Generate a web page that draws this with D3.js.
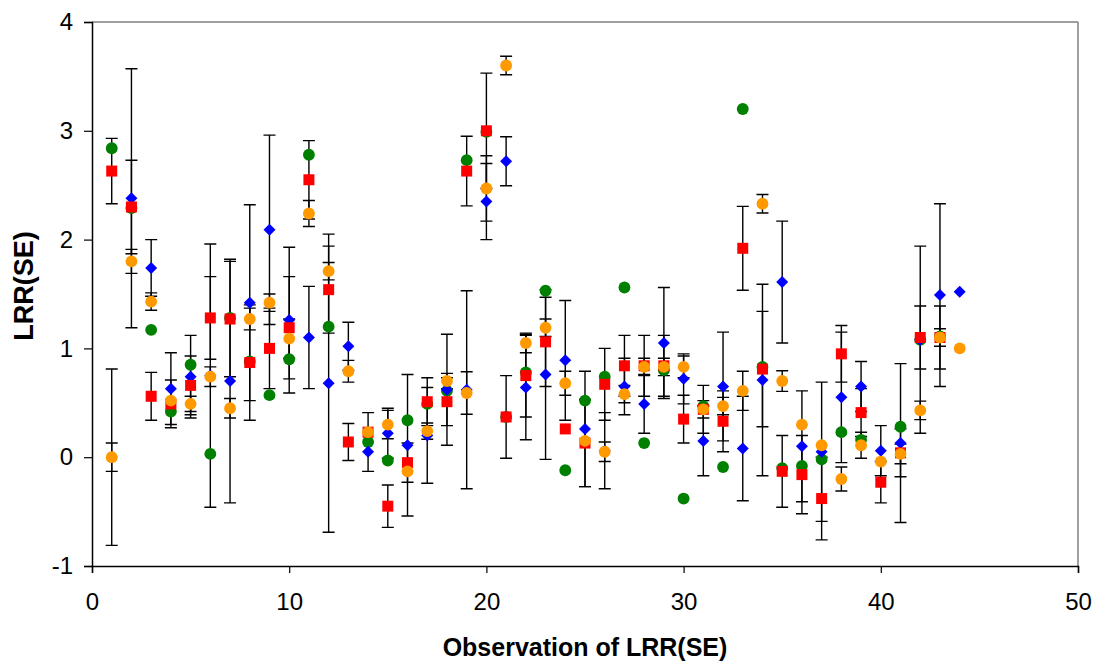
<!DOCTYPE html>
<html>
<head>
<meta charset='utf-8' />
<title>LRR(SE)</title>
<script src="https://cdn.jsdelivr.net/npm/d3@7"></script>
<style>
  html, body { margin: 0; padding: 0; background: #fff; }
  body { font-family: Arial, "Liberation Sans", sans-serif; }
  .tick text { font-size: 24px; fill: #000; font-family: Arial, "Liberation Sans", sans-serif; }
  .axis-title { font-weight: bold; fill: #000; }
  .err { stroke: #000; stroke-width: 1.4; fill: none; }
</style>
</head>
<body>
<svg id="chart" width="1095" height="661"></svg>
<script>
// observation index (x)
const obs = [1,2,3,4,5,6,7,8,9,10,11,12,13,14,15,16,17,18,19,20,21,22,
             23,24,25,26,27,28,29,30,31,32,33,34,35,36,37,38,39,40,41,42,43,44]

// series values and symmetric errors (null = no point, 0 = no bar)
const greenVals = [2.84,2.29,1.17,0.42,0.85,0.03,1.28,0.88,0.57,0.90,2.78,1.20,null,0.14,-0.03,0.34,0.49,0.61,2.73,2.99,0.37,0.78,
                   1.53,-0.12,0.52,0.74,1.56,0.13,0.80,-0.38,0.47,-0.09,3.20,0.83,-0.10,-0.08,-0.02,0.23,0.16,null,0.28,1.08,1.11,null]
const greenErr  = [0,0,0,0,0,0,0,0,0,0,0,0,0,0.27,0,0,0,0,0,0,0,0,
                   0,0,0,0,0,0,0,0,0,0,0,0,0,0,0,0,0,0,0,0,0,0]

const blueVals = [0.00,2.38,1.74,0.63,0.74,0.75,0.70,1.42,2.09,1.26,1.10,0.68,1.02,0.05,0.22,0.11,0.20,0.62,0.62,2.35,2.72,0.64,
                  0.76,0.89,0.26,0.06,0.65,0.49,1.05,0.72,0.15,0.65,0.08,0.71,1.61,0.10,0.05,0.55,0.65,0.06,0.13,1.08,1.49,1.52]
const blueErr  = [0.81,1.19,0.26,0.33,0.38,1.21,1.12,0.90,0.87,0.67,0.47,1.37,0.22,0,0.23,0.65,0.44,0.51,0.91,0.35,0.225,0.48,
                  0.78,0.55,0.53,0.35,0.26,0.27,0.51,0.23,0.32,0.50,0.48,0.88,0.56,0.51,0.64,0.60,0.23,0.23,0.73,0.86,0.84,0]

const redVals = [2.63,2.30,0.56,0.49,0.66,1.28,1.27,0.87,1.00,1.19,2.55,1.54,0.14,0.23,-0.45,-0.05,0.51,0.51,2.63,3.00,0.37,0.75,
                 1.06,0.26,0.13,0.67,0.84,0.84,0.84,0.35,0.44,0.33,1.92,0.81,-0.13,-0.16,-0.38,0.95,0.41,-0.23,0.04,1.10,1.10,null]
const redErr  = [0.30,0.43,0.22,0.22,0.27,0.38,0.53,0.53,0.37,0.47,0.36,0.40,0.17,0,0.195,0.18,0.22,0.22,0.32,0.53,0.38,0.38,
                 0.41,0,0.40,0.33,0.28,0.28,0.28,0.22,0.22,0.28,0.385,0.53,0.33,0.36,0.38,0.26,0.22,0.19,0.22,0.29,0.29,0]

const orangeVals = [0.00,1.80,1.43,0.52,0.49,0.74,0.45,1.27,1.42,1.09,2.24,1.71,0.79,0.23,0.30,-0.13,0.24,0.70,0.59,2.47,3.60,1.05,
                    1.19,0.68,0.15,0.05,0.58,0.83,0.83,0.83,0.44,0.47,0.61,2.33,0.70,0.30,0.11,-0.20,0.11,-0.04,0.03,0.43,1.10,1.00]
const orangeErr  = [0.13,0.11,0.08,0,0.07,0.09,0.09,0.10,0.08,0.18,0.12,0.08,0.10,0,0.13,0,0.075,0.07,0.195,0.30,0.085,0.09,
                    0.08,0.11,0,0.09,0.08,0.08,0.08,0.10,0.08,0.08,0.18,0.085,0.095,0,0,0.11,0.12,0,0.09,0.085,0.08,0]

const xTicks = [0, 10, 20, 30, 40, 50]
const yTicks = [-1, 0, 1, 2, 3, 4]

const series = [
  { name: 'green',  vals: greenVals,  err: greenErr,  color: '#008000', shape: 'circle' },
  { name: 'blue',   vals: blueVals,   err: blueErr,   color: '#0000ff', shape: 'diamond' },
  { name: 'red',    vals: redVals,    err: redErr,    color: '#ff0000', shape: 'square' },
  { name: 'orange', vals: orangeVals, err: orangeErr, color: '#ff9900', shape: 'circle' }
]

const margin = { top: 22, right: 17, bottom: 95, left: 92 }
const width = 1095 - margin.left - margin.right
const height = 661 - margin.top - margin.bottom

const svg = d3.select('#chart')
const g = svg.append('g')
  .attr('transform', 'translate(' + margin.left + ',' + margin.top + ')')

const x = d3.scaleLinear().domain([0, 50]).range([0, width])
const y = d3.scaleLinear().domain([-1, 4]).range([height, 0])

// frame: top and right in grey
g.append('line').attr('x1', 0).attr('x2', width).attr('y1', 0).attr('y2', 0)
  .attr('stroke', '#808080').attr('stroke-width', 1.5)
g.append('line').attr('x1', width).attr('x2', width).attr('y1', 0).attr('y2', height)
  .attr('stroke', '#808080').attr('stroke-width', 1.5)

const fmt = d => String(d)   // plain hyphen for -1
const xAxis = g.append('g')
  .attr('transform', 'translate(0,' + height + ')')
  .call(d3.axisBottom(x).tickValues(xTicks).tickFormat(fmt).tickSize(7).tickPadding(20))
const yAxis = g.append('g')
  .call(d3.axisLeft(y).tickValues(yTicks).tickFormat(fmt).tickSize(8).tickPadding(11))

;[xAxis, yAxis].forEach(a => {
  a.select('.domain').attr('stroke', '#000').attr('stroke-width', 1.5)
  a.selectAll('.tick line').attr('stroke', '#000').attr('stroke-width', 1.2)
})

// axis titles
g.append('text').attr('class', 'axis-title')
  .attr('x', width / 2).attr('y', height + 90)
  .style('font-size', '25px')
  .attr('text-anchor', 'middle')
  .text('Observation of LRR(SE)')
g.append('text').attr('class', 'axis-title')
  .attr('transform', 'translate(' + (-59) + ',' + (height / 2 - 8) + ') rotate(-90)')
  .style('font-size', '27px')
  .attr('text-anchor', 'middle')
  .text('LRR(SE)')

const cap = 6

// error bars first
series.forEach(s => {
  const pts = obs.map((o, i) => ({ o, v: s.vals[i], e: s.err[i] }))
    .filter(d => d.v !== null && d.e > 0)
  const eg = g.append('g')
  eg.selectAll('path')
    .data(pts)
    .enter()
    .append('path')
    .attr('class', 'err')
    .attr('d', d => {
      const cx = x(d.o), y0 = y(d.v - d.e), y1 = y(d.v + d.e)
      return 'M' + cx + ',' + y0 + 'V' + y1 +
        'M' + (cx - cap) + ',' + y1 + 'H' + (cx + cap) +
        'M' + (cx - cap) + ',' + y0 + 'H' + (cx + cap)
    })
})

// markers
const symbols = {
  circle: d3.symbol().type(d3.symbolCircle).size(110),
  square: d3.symbol().type(d3.symbolSquare).size(121),
  diamond: d3.symbol().type(d3.symbolSquare).size(72)
}

series.forEach(s => {
  const pts = obs.map((o, i) => ({ o, v: s.vals[i] })).filter(d => d.v !== null)
  g.append('g').selectAll('path')
    .data(pts)
    .enter()
    .append('path')
    .attr('d', symbols[s.shape])
    .attr('transform', d => 'translate(' + x(d.o) + ',' + y(d.v) + ')' + (s.shape === 'diamond' ? ' rotate(45)' : ''))
    .attr('fill', s.color)
})
</script>
</body>
</html>
